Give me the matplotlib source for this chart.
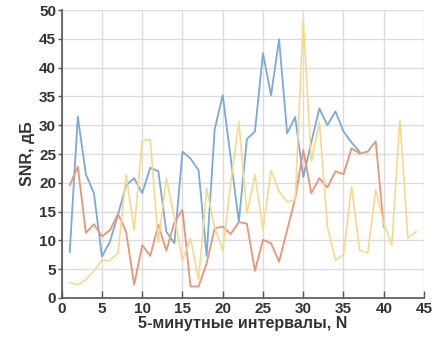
import matplotlib
matplotlib.use('Agg')
import matplotlib.pyplot as plt
import numpy as np

# SNR по 5-минутным интервалам, три записи
blue_snr = [8, 31.5, 21.5, 18.2, 7.2, 9.8, 14.5, 19.6, 20.8, 18.2,
            22.6, 22, 11.5, 9.5, 25.4, 24.2, 22.2, 7.3, 29.3, 35.2,
            24.2, 13.2, 27.6, 28.9, 42.5, 35.2, 44.9, 28.6, 31.4, 21,
            27, 32.9, 30, 32.4, 28.9, 27, 25.4]
orange_snr = [19.6, 22.8, 11.3, 12.8, 10.7, 11.8, 14.6, 11.5, 2.3, 9.2,
              7.3, 12.7, 8.2, 13.2, 15.3, 2.0, 2.0, 6.0, 12.1, 12.4,
              11.1, 13.2, 12.9, 4.7, 10.1, 9.5, 6.3, 11.8, 17.3, 25.7,
              18.2, 20.8, 19.2, 22, 21.5, 26, 25.1, 25.4, 27.2, 12.4]
yellow_snr = [2.7, 2.3, 3.2, 4.7, 6.6, 6.5, 7.8, 21.4, 11.8, 27.3,
              27.5, 9.7, 20.8, 14, 6.5, 10.4, 3.2, 19, 12.2, 8.3,
              20, 30.6, 14.7, 21.4, 11.8, 22.2, 18.5, 16.7, 17, 48.3,
              23.7, 30.6, 12.4, 6.6, 7.5, 19.3, 8.3, 7.8, 18.8, 13,
              9.2, 30.9, 10.4, 11.5]

xticks = [0, 5, 10, 15, 20, 25, 30, 35, 40, 45]
yticks = [0, 5, 10, 15, 20, 25, 30, 35, 40, 45, 50]

plt.rcParams['font.family'] = ['Liberation Sans', 'DejaVu Sans']

fig = plt.figure(figsize=(4.36, 3.42), dpi=100)
ax = fig.add_axes([0.1415, 0.1287, 0.831, 0.842])

ax.plot(np.arange(1, len(blue_snr) + 1), blue_snr, color='#78abd8', lw=1.3)
ax.plot(np.arange(1, len(orange_snr) + 1), orange_snr, color='#ec9475', lw=1.3)
ax.plot(np.arange(1, len(yellow_snr) + 1), yellow_snr, color='#f8d98c', lw=1.2)

ax.set_xlim(0, 45)
ax.set_ylim(0, 50)
ax.set_xticks(xticks)
ax.set_yticks(yticks)
ax.grid(True, color='#dcdcdc', lw=1)
ax.set_axisbelow(True)

for s in ['top', 'right']:
    ax.spines[s].set_visible(False)
for s in ['left', 'bottom']:
    ax.spines[s].set_color('#555555')
    ax.spines[s].set_linewidth(1.2)

ax.tick_params(width=1, colors='#555555', labelcolor='#333333', labelsize=11)
ax.tick_params(axis='x', direction='in', length=5, pad=3)
ax.tick_params(axis='y', direction='out', length=3, pad=1)
for lbl in ax.get_xticklabels() + ax.get_yticklabels():
    lbl.set_fontweight('bold')

ax.set_xlabel('5-минутные интервалы, N', fontsize=11.5, fontweight='bold',
              color='#333333', labelpad=0)
ax.set_ylabel('SNR, дБ', fontsize=11.5, fontweight='bold',
              color='#333333', labelpad=3)

fig.savefig('out.png', dpi=100)
